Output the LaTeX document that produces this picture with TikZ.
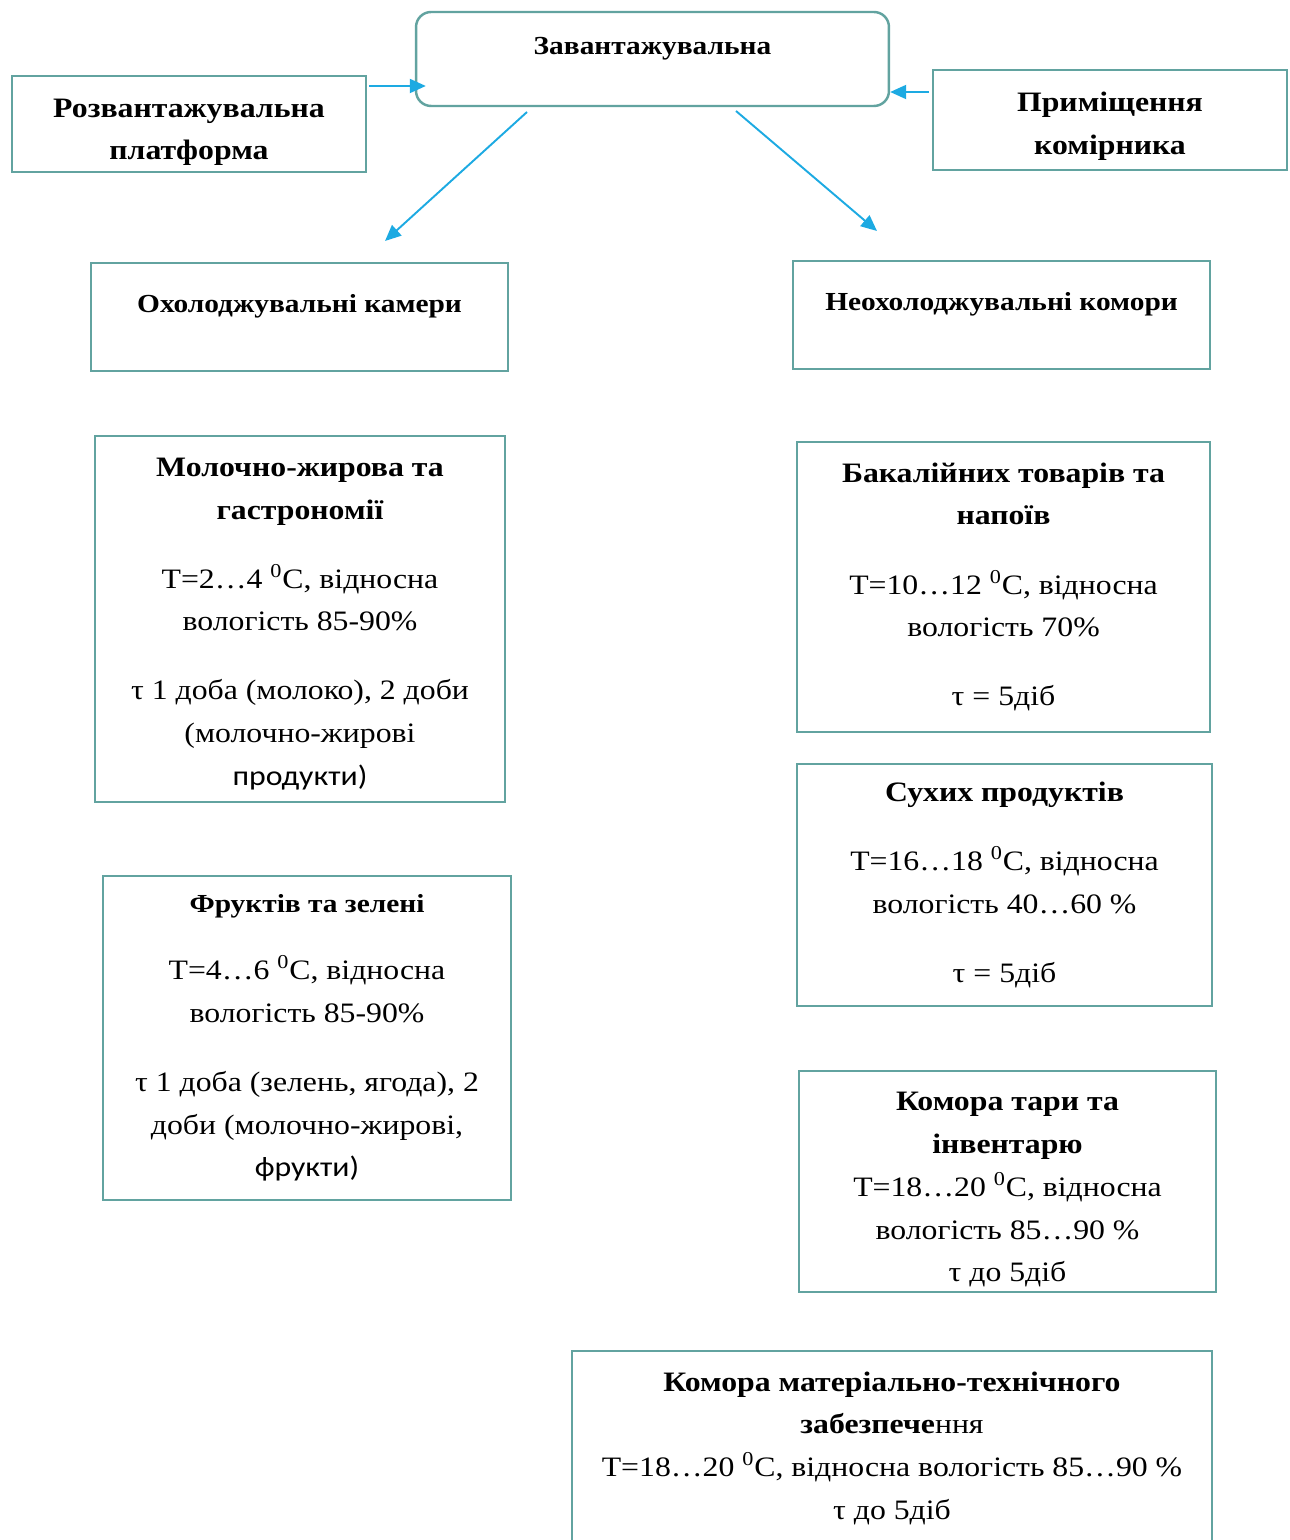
\documentclass[tikz,border=0pt]{standalone}
\usepackage{fontspec}
\setmainfont[FakeStretch=1.13]{Liberation Serif}
\newfontfamily\calibrifont[FakeStretch=1.13]{Carlito}
\usetikzlibrary{arrows.meta, positioning}

\definecolor{boxline}{RGB}{98,163,160}
\definecolor{arrowblue}{RGB}{29,170,226}
\newcommand{\degz}{\textsuperscript{0}}

\begin{document}
\begin{tikzpicture}[
    x=0.02cm, y=-0.02cm,
    >={Triangle[length=0.32cm, width=0.28cm]},
    font=\fontsize{16}{24.3}\selectfont,
    room/.style={draw=boxline, line width=1.4pt, rectangle, align=center,
                 inner xsep=0.1cm, inner ysep=0pt},
    hub/.style={room, rounded corners=0.3cm},
    bigtitle/.style={font=\fontsize{16}{24.3}\selectfont\bfseries},
    midtitle/.style={font=\fontsize{14.8}{24}\selectfont\bfseries},
    link/.style={->, arrowblue, line width=1.1pt},
]
\useasboundingbox (0,0) rectangle (1290,1540);

% --- top row ---
\node[hub, midtitle, minimum width=9.46cm, minimum height=1.88cm]
    (zav) at (652.5, 59) {\raisebox{14.7pt}{Завантажувальна}};
\node[room, bigtitle, minimum width=7.08cm, minimum height=1.92cm]
    (rozv) at (189, 124) {\rule{0pt}{20pt}Розвантажувальна\\ платформа};
\node[room, bigtitle, minimum width=7.08cm, minimum height=2.0cm]
    (prym) at (1110, 120) {\rule{0pt}{18.5pt}Приміщення\\ комірника};

% --- groups ---
\node[room, midtitle, minimum width=8.34cm, minimum height=2.16cm]
    (oxol) at (299.5, 317) {\raisebox{15.9pt}{Охолоджувальні камери}};
\node[room, midtitle, minimum width=8.34cm, minimum height=2.16cm]
    (neox) at (1001.5, 315) {\raisebox{15.9pt}{Неохолоджувальні комори}};

% --- chilled rooms ---
\node[room, minimum width=8.2cm, minimum height=7.32cm] (moloch) at (300, 619) {
    \rule{0pt}{16pt}\textbf{Молочно-жирова та}\\ \textbf{гастрономії}\\[15pt]
    Т=2…4 \degz С, відносна\\ вологість 85-90\%\\[15pt]
    τ 1 доба (молоко), 2 доби\\ (молочно-жирові\\ {\calibrifont продукти)}};
\node[room, minimum width=8.16cm, minimum height=6.48cm] (frukt) at (307, 1038) {
    {\fontsize{14.8}{20}\selectfont\bfseries Фруктів та зелені}\\[14pt]
    Т=4…6 \degz С, відносна\\ вологість 85-90\%\\[15pt]
    τ 1 доба (зелень, ягода), 2\\ доби (молочно-жирові,\\ {\calibrifont фрукти)}};

% --- unchilled rooms ---
\node[room, minimum width=8.26cm, minimum height=5.8cm] (bakal) at (1003.5, 587) {
    \textbf{Бакалійних товарів та}\\ \textbf{напоїв}\\[15pt]
    Т=10…12 \degz С, відносна\\ вологість 70\%\\[15pt]
    τ = 5діб};
\node[room, minimum width=8.3cm, minimum height=4.84cm] (sukh) at (1004.5, 885) {
    \textbf{Сухих продуктів}\\[15pt]
    Т=16…18 \degz С, відносна\\ вологість 40…60 \%\\[15pt]
    τ = 5діб};
\node[room, minimum width=8.34cm, minimum height=4.42cm] (tara) at (1007.5, 1181.5) {
    \rule{0pt}{20pt}\textbf{Комора тари та}\\ \textbf{інвентарю}\\
    Т=18…20 \degz С, відносна\\ вологість 85…90 \%\\
    τ до 5діб};
\node[room, minimum width=12.8cm, minimum height=3.88cm] (mtz) at (892, 1448) {
    \textbf{Комора матеріально-технічного}\\ \textbf{забезпече}ння\\
    Т=18…20 \degz С, відносна вологість 85…90 \%\\
    τ до 5діб};

% --- connectors ---
\coordinate (rin) at (369, 86);
\coordinate (pin) at (929, 92);
\coordinate (lout) at (527, 112);
\coordinate (lend) at (385, 241);
\coordinate (rout) at (736, 111);
\coordinate (rend) at (877, 231);

\draw[link, shorten >=-0.22cm] (rin) -- (rin -| zav.west);
\draw[link] (pin) -- (pin -| zav.east);
\draw[link] (lout) -- (lend);
\draw[link] (rout) -- (rend);

\end{tikzpicture}
\end{document}
